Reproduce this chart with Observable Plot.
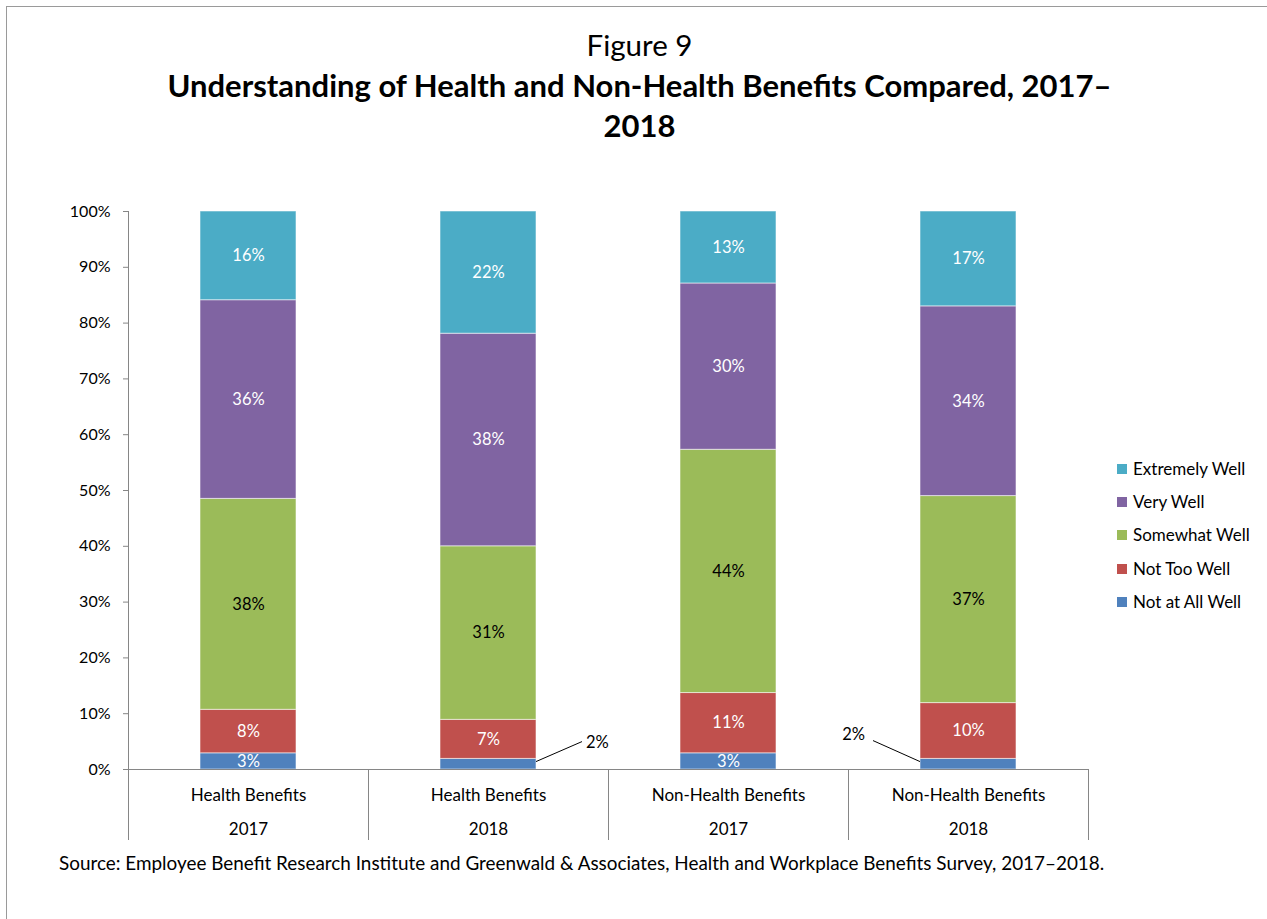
<!DOCTYPE html>
<html>
<head>
<meta charset="utf-8">
<script src="https://cdn.jsdelivr.net/npm/d3@7"></script>
<script src="https://cdn.jsdelivr.net/npm/@observablehq/plot@0.6"></script>
<style>
  body { margin: 0; background: #fff; font-family: Lato, "Open Sans", sans-serif; color: #000; overflow: hidden; }
  #wrap { position: relative; width: 1267px; height: 919px; overflow: hidden; background: #fff; }
  #frame { position: absolute; left: 6px; top: 6px; width: 1400px; height: 1100px; border: 1.5px solid #9a9a9a; box-sizing: border-box; }
  #chart { position: absolute; left: 0; top: 0; }
  .ttl { position: absolute; left: 0; width: 1279px; text-align: center; line-height: 40px; }
  #t1 { top: 25px; font-size: 29.5px; }
  #t2 { top: 65px; font-size: 31px; font-weight: 700; }
  #legend { position: absolute; left: 1117px; top: 452px; font-size: 17px; }
  .li { height: 33.3px; line-height: 20px; display: flex; align-items: center; white-space: nowrap; }
  .sw { width: 10px; height: 10px; margin-right: 6px; display: inline-block; }
  #caption { position: absolute; left: 59px; top: 851px; font-size: 18.9px; line-height: 24px; white-space: nowrap; }
</style>
</head>
<body>
<div id="wrap">
  <div id="frame"></div>
  <div id="chart"></div>
  <div id="t1" class="ttl">Figure 9</div>
  <div id="t2" class="ttl">Understanding of Health and Non-Health Benefits Compared, 2017–<br>2018</div>
  <div id="legend"></div>
  <div id="caption">Source: Employee Benefit Research Institute and Greenwald &amp; Associates, Health and Workplace Benefits Survey, 2017–2018.</div>
</div>
<script>
// ---- data ----
const groups = ["Health Benefits", "Health Benefits", "Non-Health Benefits", "Non-Health Benefits"];
const years = ["2017", "2018", "2017", "2018"];
const levels = ["Not at All Well", "Not Too Well", "Somewhat Well", "Very Well", "Extremely Well"];
const notAtAllWell  = [2.9, 1.9, 2.9, 1.9];
const notTooWell    = [7.8, 7.0, 10.8, 10.0];
const somewhatWell  = [37.8, 31.1, 43.6, 37.1];
const veryWell      = [35.6, 38.1, 29.8, 34.0];
const extremelyWell = [15.9, 21.9, 12.9, 17.0];
const colors = ["#4F81BD", "#C0504D", "#9BBB59", "#8064A2", "#4BACC6"];
const labelColors = ["#fff", "#fff", "#000", "#fff", "#fff"];
const calloutSide = ["none", "right", "none", "left"]; // external labels for thin segments
const yTicks = [0, 10, 20, 30, 40, 50, 60, 70, 80, 90, 100];

const keys = groups.map((g, i) => g + " " + years[i]);
const series = [notAtAllWell, notTooWell, somewhatWell, veryWell, extremelyWell];
const table = [];
levels.forEach((lev, j) => keys.forEach((k, i) => table.push({key: k, level: lev, value: series[j][i], li: j, ci: i})));
const cats = keys.map((k, i) => ({key: k, group: groups[i], year: years[i]}));

const FONT = "Lato, 'Open Sans', sans-serif";
const plot = Plot.plot({
  width: 1267,
  height: 919,
  marginTop: 211,
  marginBottom: 150,
  marginLeft: 128,
  marginRight: 179,
  style: {background: "transparent", fontFamily: FONT, fontSize: "16px", color: "#000", overflow: "visible"},
  x: {domain: keys, paddingInner: 0.6, paddingOuter: 0.3, axis: null},
  y: {domain: [0, 100], ticks: yTicks, tickFormat: d => d + "%", tickSize: 5, tickPadding: 13, label: null},
  color: {domain: levels, range: colors},
  marks: [
    Plot.barY(table, {x: "key", y: "value", fill: "level", z: "level", order: levels, stroke: "#ffffff", strokeOpacity: 0.55, strokeWidth: 1}),
    Plot.text(table, Plot.stackY({
      x: "key", y: "value", z: "level", order: levels,
      text: d => d.value >= 2.5 ? Math.round(d.value) + "%" : "",
      fill: d => labelColors[d.li], fontSize: 16.5
    })),
    Plot.ruleY([0], {stroke: "#868686", strokeWidth: 1}),
    Plot.text(cats, {x: "key", y: 0, dy: 26, text: "group", fontSize: 17, fill: "#000"}),
    Plot.text(cats, {x: "key", y: 0, dy: 60, text: "year", fontSize: 17, fill: "#000"})
  ]
});
document.getElementById("chart").appendChild(plot);

// gray axis tick lines
d3.select(plot).selectAll("g[aria-label^='y-axis'] line, g[aria-label^='y-axis'] path, .tick line, .domain")
  .attr("stroke", "#868686");
d3.select(plot).selectAll(".domain").remove();

// scales from the library
const xd = plot.scale("x"), yd = plot.scale("y");
const xs = xd.apply ? (v => xd.apply(v)) : d3.scaleBand(xd.domain, xd.range).paddingInner(xd.paddingInner).paddingOuter(xd.paddingOuter).align(xd.align ?? 0.5);
const ys = yd.apply ? (v => yd.apply(v)) : d3.scaleLinear(yd.domain, yd.range);
const bw = xd.bandwidth, gap = xd.step - xd.bandwidth;
const svg = d3.select(plot);
const g = svg.append("g").attr("stroke", "#868686").attr("stroke-width", 1);
// category separators & y axis line
keys.forEach((k, i) => {
  const x = Math.round(xs(k) - gap / 2) + 0.5;
  g.append("line").attr("x1", x).attr("x2", x).attr("y1", i === 0 ? ys(100) : ys(0)).attr("y2", ys(0) + 71);
});
{
  const x = Math.round(xs(keys[keys.length - 1]) + bw + gap / 2) + 0.5;
  g.append("line").attr("x1", x).attr("x2", x).attr("y1", ys(0)).attr("y2", ys(0) + 71);
}
// callouts for thin segments
const cg = svg.append("g");
keys.forEach((k, i) => {
  const side = calloutSide[i];
  if (side === "none") return;
  const v = notAtAllWell[i];
  const y0 = ys(v * 0.7);
  if (side === "right") {
    const x0 = xs(k) + bw;
    cg.append("line").attr("x1", x0).attr("y1", y0).attr("x2", x0 + 46).attr("y2", y0 - 20).attr("stroke", "#000");
    cg.append("text").attr("x", x0 + 50).attr("y", y0 - 19).attr("dy", "0.32em").attr("text-anchor", "start").attr("font-size", 16.5).attr("fill", "#000").text(Math.round(v) + "%");
  } else {
    const x0 = xs(k);
    cg.append("line").attr("x1", x0).attr("y1", y0).attr("x2", x0 - 47).attr("y2", y0 - 21).attr("stroke", "#000");
    cg.append("text").attr("x", x0 - 55).attr("y", y0 - 27).attr("dy", "0.32em").attr("text-anchor", "end").attr("font-size", 16.5).attr("fill", "#000").text(Math.round(v) + "%");
  }
});

// legend (top to bottom: reversed stack order)
const leg = d3.select("#legend");
levels.slice().reverse().forEach(lev => {
  const row = leg.append("div").attr("class", "li");
  row.append("span").attr("class", "sw").style("background", colors[levels.indexOf(lev)]);
  row.append("span").text(lev);
});
</script>
</body>
</html>
